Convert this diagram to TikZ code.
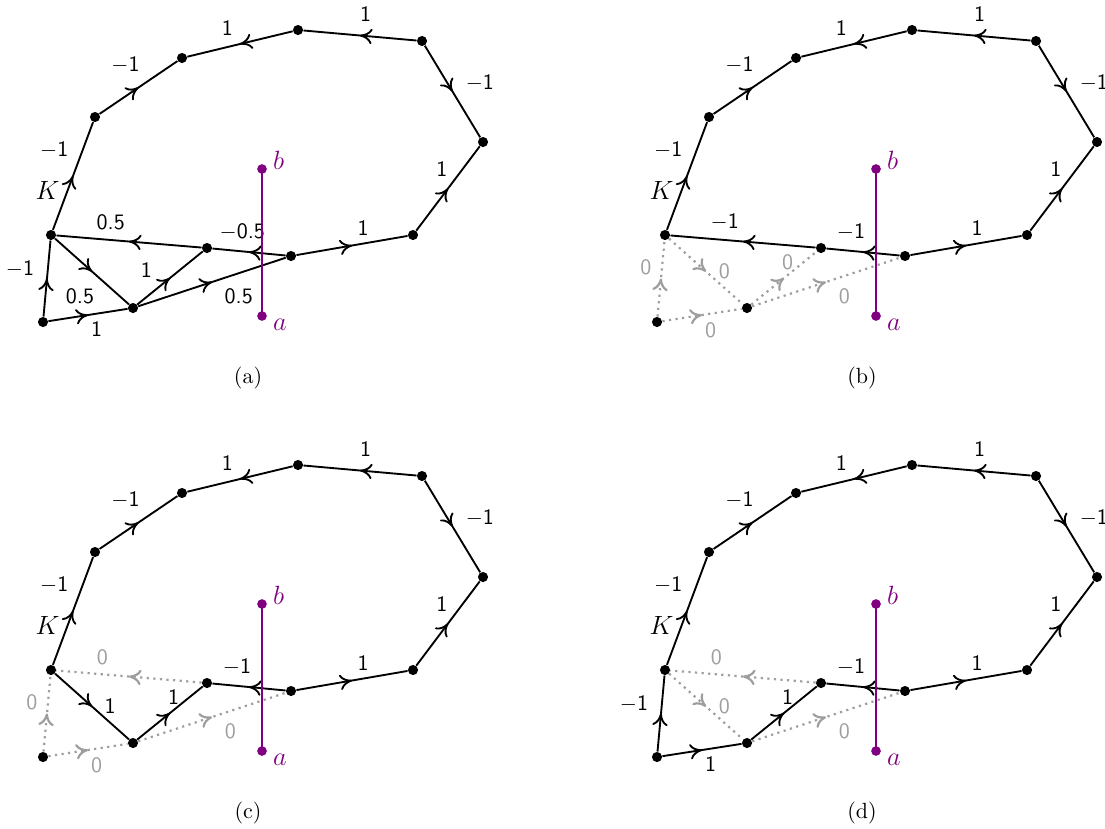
\documentclass[tikz,border=0pt]{standalone}
\usetikzlibrary{arrows.meta, decorations.markings, calc}
\definecolor{cutPurple}{HTML}{800080}
\definecolor{zeroGrey}{HTML}{9E9E9E}
\tikzset{
  vdot/.style     = {circle, fill=black, inner sep=0pt, minimum size=4.6pt},
  pdot/.style     = {circle, fill=cutPurple, inner sep=0pt, minimum size=4.4pt},
  midarrow/.style = {decoration={markings,
                      mark=at position 0.5 with {\arrow{Computer Modern Rightarrow[length=5.5pt, width=7pt]}}},
                     postaction={decorate}},
  sedge/.style    = {black, line width=0.85pt, midarrow},
  dedge/.style    = {zeroGrey, line width=1pt, dotted, midarrow},
  cutline/.style  = {cutPurple, line width=0.85pt},
  lbl/.style      = {font=\sffamily},
  glbl/.style     = {font=\sffamily, zeroGrey},
  mlbl/.style     = {font=\large},
  subcap/.style   = {font=\normalsize},
}

\begin{document}
\begin{tikzpicture}[x=0.4545pt, y=-0.4545pt]
  \useasboundingbox (0,0) rectangle (1105,828);

  % the four copies of K, outer ring has the same weights everywhere
  \foreach \pn/\dx/\dy in {a/0/0, b/614/0, c/0/435, d/614/435} {
    \begin{scope}[shift={(\dx,\dy)}]
      \node[vdot] (\pn-sw) at (43,322)  {};
      \node[vdot] (\pn-s)  at (133,308) {};
      \node[vdot] (\pn-k)  at (51,235)  {};
      \node[vdot] (\pn-w)  at (95,117)  {};
      \node[vdot] (\pn-nw) at (182,58)  {};
      \node[vdot] (\pn-n)  at (298,30)  {};
      \node[vdot] (\pn-ne) at (422,41)  {};
      \node[vdot] (\pn-e)  at (483,142) {};
      \node[vdot] (\pn-q)  at (413,235) {};
      \node[vdot] (\pn-r)  at (291,256) {};
      \node[vdot] (\pn-m)  at (207,248) {};

      \draw[sedge] (\pn-r)  -- node[lbl, above, pos=0.6] {1} (\pn-q);
      \draw[sedge] (\pn-q)  -- node[lbl, above left, pos=0.55, xshift=2pt] {1} (\pn-e);
      \draw[sedge] (\pn-ne) -- node[lbl, above right, pos=0.59] {$-$1} (\pn-e);
      \draw[sedge] (\pn-ne) -- node[lbl, above=2.7pt, pos=0.45] {1} (\pn-n);
      \draw[sedge] (\pn-n)  -- node[lbl, above=1.3pt, pos=0.62] {1} (\pn-nw);
      \draw[sedge] (\pn-w)  -- node[lbl, above left, pos=0.62] {$-$1} (\pn-nw);
      \draw[sedge] (\pn-k)  -- node[lbl, above left, pos=0.59] {$-$1}
                               node[mlbl, left, pos=0.37] (\pn-klbl) {$K$} (\pn-w);

      \node[subcap] (\pn-cap) at (248,378) {(\pn)};
    \end{scope}
  }

  % (a)
  \draw[sedge] (a-sw) -- node[lbl, below, pos=0.61] {1} (a-s);
  \draw[sedge] (a-sw) -- node[lbl, left=2.5pt, pos=0.62] {$-$1} (a-k);
  \draw[sedge] (a-k)  -- node[lbl, below left, pos=0.64] {0.5} (a-s);
  \draw[sedge] (a-s)  -- node[lbl, above left, pos=0.35] {1} (a-m);
  \draw[sedge] (a-s)  -- node[lbl, below right, pos=0.53] {0.5} (a-r);
  \draw[sedge] (a-m)  -- node[lbl, above right, pos=0.78] {0.5} (a-k);
  \draw[sedge] (a-r)  -- node[lbl, above right, pos=0.97, xshift=-1.5pt] {$-$0.5} (a-m);

  % (b)
  \draw[dedge] (b-sw) -- node[glbl, below, pos=0.61] {0} (b-s);
  \draw[dedge] (b-sw) -- node[glbl, left=1pt, pos=0.65] {0} (b-k);
  \draw[dedge] (b-k)  -- node[glbl, right=2pt, pos=0.5] {0} (b-s);
  \draw[dedge] (b-s)  -- node[glbl, left=1pt, pos=0.8] {0} (b-m);
  \draw[dedge] (b-s)  -- node[glbl, below right, pos=0.53] {0} (b-r);
  \draw[sedge] (b-m)  -- node[lbl, above right, pos=0.78] {$-$1} (b-k);
  \draw[sedge] (b-r)  -- node[lbl, above right, pos=0.97] {$-$1} (b-m);

  % (c)
  \draw[dedge] (c-sw) -- node[glbl, below, pos=0.61] {0} (c-s);
  \draw[dedge] (c-sw) -- node[glbl, left=1pt, pos=0.65] {0} (c-k);
  \draw[sedge] (c-k)  -- node[lbl, right=2pt, pos=0.5] {1} (c-s);
  \draw[sedge] (c-s)  -- node[lbl, left=1pt, pos=0.8] {1} (c-m);
  \draw[dedge] (c-s)  -- node[glbl, below right, pos=0.53] {0} (c-r);
  \draw[dedge] (c-m)  -- node[glbl, above right, pos=0.78] {0} (c-k);
  \draw[sedge] (c-r)  -- node[lbl, above right, pos=0.97] {$-$1} (c-m);

  % (d)
  \draw[sedge] (d-sw) -- node[lbl, below, pos=0.61] {1} (d-s);
  \draw[sedge] (d-sw) -- node[lbl, left=2.5pt, pos=0.62] {$-$1} (d-k);
  \draw[dedge] (d-k)  -- node[glbl, right=2pt, pos=0.5] {0} (d-s);
  \draw[sedge] (d-s)  -- node[lbl, left=1pt, pos=0.8] {1} (d-m);
  \draw[dedge] (d-s)  -- node[glbl, below right, pos=0.53] {0} (d-r);
  \draw[dedge] (d-m)  -- node[glbl, above right, pos=0.78] {0} (d-k);
  \draw[sedge] (d-r)  -- node[lbl, above right, pos=0.97] {$-$1} (d-m);

  % the segment from a to b
  \foreach \pn/\dx/\dy in {a/0/0, b/614/0, c/0/435, d/614/435} {
    \begin{scope}[shift={(\dx,\dy)}]
      \node[pdot] (\pn-a) at (262,316) {};
      \node[pdot] (\pn-b) at (262,169) {};
      \draw[cutline] (\pn-a.center) -- (\pn-b.center);
      \node[mlbl, text=cutPurple, anchor=north west, inner sep=1pt, xshift=1.5pt]
        (\pn-alb) at (\pn-a.east) {$a$};
      \node[mlbl, text=cutPurple, anchor=base west, inner sep=1pt, xshift=1.5pt]
        (\pn-blb) at (\pn-b.east) {$b$};
    \end{scope}
  }
\end{tikzpicture}
\end{document}
